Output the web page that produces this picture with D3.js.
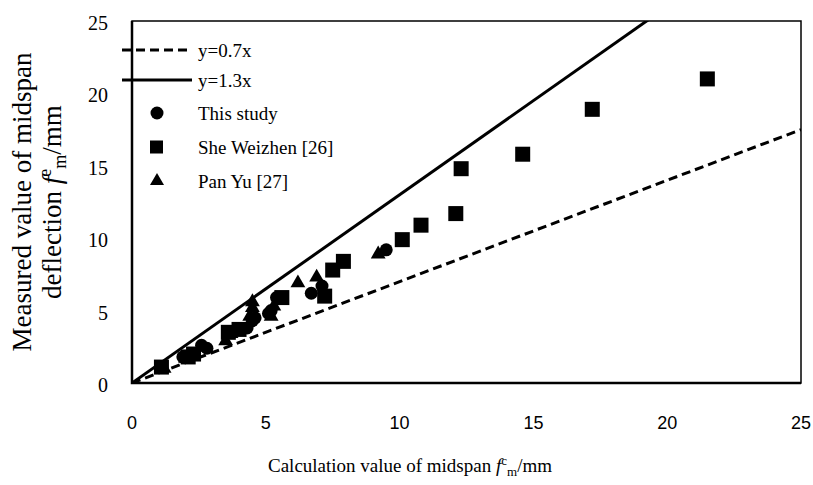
<!DOCTYPE html>
<html lang="en">
<head>
  <meta charset="UTF-8">
  <title>Midspan deflection comparison</title>
  <script src="https://d3js.org/d3.v7.min.js"></script>
  <style>
    body {
      margin: 0;
      background-color: #fff;
    }
    .ylab { font-family: 'Liberation Serif', 'Times New Roman', serif; font-size: 20px; }
    .xlab { font-family: 'Liberation Sans', Arial, sans-serif; font-size: 18px; }
    .legend text, .title { font-family: 'Liberation Serif', 'Times New Roman', serif; }
  </style>
</head>
<body>
  <svg width="813" height="485"></svg>

  <script>
    // ticks
    const xTicks = [0, 5, 10, 15, 20, 25];
    const yTicks = [0, 5, 10, 15, 20, 25];

    // reference lines y = k x
    const lineSlopes = [0.7, 1.3];
    const lineNames = ["y=0.7x", "y=1.3x"];

    // This study (circles)
    const studyX = [1.9, 2.2, 2.6, 2.8, 4.3, 4.5, 4.6, 5.1, 5.2, 5.4, 6.7, 7.1, 9.5];
    const studyY = [1.8, 1.9, 2.6, 2.4, 3.8, 4.3, 4.5, 4.8, 5.0, 5.9, 6.2, 6.7, 9.2];

    // She Weizhen [26] (squares)
    const sheX = [1.1, 2.1, 2.3, 3.6, 4.0, 5.6, 7.2, 7.5, 7.9, 10.1, 10.8, 12.1, 12.3, 14.6, 17.2, 21.5];
    const sheY = [1.1, 1.8, 2.0, 3.5, 3.7, 5.9, 6.0, 7.8, 8.4, 9.9, 10.9, 11.7, 14.8, 15.8, 18.9, 21.0];

    // Pan Yu [27] (triangles)
    const panX = [1.2, 2.0, 3.5, 3.7, 4.4, 4.5, 4.5, 5.2, 5.3, 6.2, 6.9, 9.2];
    const panY = [1.0, 1.7, 2.9, 3.4, 4.6, 5.2, 5.6, 4.6, 5.3, 6.9, 7.3, 8.9];

    const svg = d3.select("svg");
    const plotL = 132, plotR = 801, plotT = 21, plotB = 383;

    const x = d3.scaleLinear().domain([0, 25]).range([plotL, plotR]);
    const y = d3.scaleLinear().domain([0, 25]).range([plotB, plotT]);

    svg.append("clipPath").attr("id", "plot-clip")
      .append("rect")
      .attr("x", plotL).attr("y", plotT)
      .attr("width", plotR - plotL).attr("height", plotB - plotT);

    // reference lines
    const line = d3.line().x(d => x(d[0])).y(d => y(d[1]));
    svg.append("g").attr("clip-path", "url(#plot-clip)")
      .selectAll("path")
      .data(lineSlopes)
      .enter().append("path")
      .attr("d", k => line([[0, 0], [25, 25 * k]]))
      .attr("fill", "none")
      .attr("stroke", "#000")
      .attr("stroke-width", 3)
      .attr("stroke-dasharray", (k, i) => i === 0 ? "9,5" : null);

    // markers
    const zip = (xs, ys) => xs.map((v, i) => [v, ys[i]]);
    const g = svg.append("g");

    g.selectAll(".sq")
      .data(zip(sheX, sheY))
      .enter().append("rect")
      .attr("x", d => x(d[0]) - 7.5)
      .attr("y", d => y(d[1]) - 7.5)
      .attr("width", 15).attr("height", 15)
      .attr("fill", "#000");

    g.selectAll(".tri")
      .data(zip(panX, panY))
      .enter().append("path")
      .attr("transform", d => `translate(${x(d[0])},${y(d[1])})`)
      .attr("d", d3.symbol(d3.symbolTriangle, 95))
      .attr("fill", "#000");

    g.selectAll(".dot")
      .data(zip(studyX, studyY))
      .enter().append("circle")
      .attr("cx", d => x(d[0]))
      .attr("cy", d => y(d[1]))
      .attr("r", 6.5)
      .attr("fill", "#000");

    // plot border
    svg.append("rect")
      .attr("x", plotL).attr("y", plotT)
      .attr("width", plotR - plotL).attr("height", plotB - plotT)
      .attr("fill", "none").attr("stroke", "#000").attr("stroke-width", 1.5);
    svg.append("path")
      .attr("d", `M${plotL},${plotT}V${plotB}H${plotR}`)
      .attr("fill", "none").attr("stroke", "#000").attr("stroke-width", 2.5);

    // tick labels
    svg.selectAll(".ylab")
      .data(yTicks)
      .enter().append("text")
      .attr("class", "ylab")
      .attr("x", 108)
      .attr("y", d => y(d) + 2)
      .attr("text-anchor", "end")
      .attr("dominant-baseline", "central")
      .text(d => d);

    svg.selectAll(".xlab")
      .data(xTicks)
      .enter().append("text")
      .attr("class", "xlab")
      .attr("x", d => x(d))
      .attr("y", 423)
      .attr("text-anchor", "middle")
      .attr("dominant-baseline", "central")
      .text(d => d);

    // axis titles
    const xt = svg.append("text").attr("class", "title")
      .attr("x", 268).attr("y", 472)
      .style("font-size", "19px");
    xt.append("tspan").text("Calculation value of midspan ");
    xt.append("tspan").attr("font-style", "italic").text("f");
    xt.append("tspan").attr("dy", -7).style("font-size", "13px").text("c");
    xt.append("tspan").attr("dy", 11).style("font-size", "13px").text("m");
    xt.append("tspan").attr("dy", -4).text("/mm");

    const yt = svg.append("g").attr("transform", "translate(0,202) rotate(-90)");
    yt.append("text").attr("class", "title")
      .attr("x", 0).attr("y", 31)
      .attr("text-anchor", "middle")
      .style("font-size", "27px")
      .text("Measured value of midspan");
    const yt2 = yt.append("text").attr("class", "title")
      .attr("x", 0).attr("y", 61)
      .attr("text-anchor", "middle")
      .style("font-size", "27px");
    yt2.append("tspan").text("deflection ");
    yt2.append("tspan").attr("font-style", "italic").text("f");
    yt2.append("tspan").attr("dy", -10).style("font-size", "18px").text("e");
    yt2.append("tspan").attr("dy", 15).style("font-size", "18px").text("m");
    yt2.append("tspan").attr("dy", -5).text("/mm");

    // legend
    const legend = svg.append("g").attr("class", "legend");
    const rowY = [50, 80, 113, 147, 181];
    const labels = lineNames.concat(["This study", "She Weizhen [26]", "Pan Yu [27]"]);

    legend.selectAll("line")
      .data(lineSlopes)
      .enter().append("line")
      .attr("x1", 122).attr("x2", 192)
      .attr("y1", (d, i) => rowY[i]).attr("y2", (d, i) => rowY[i])
      .attr("stroke", "#000").attr("stroke-width", 3)
      .attr("stroke-dasharray", (d, i) => i === 0 ? "9,5" : null);

    legend.append("circle").attr("cx", 157).attr("cy", rowY[2]).attr("r", 6.5);
    legend.append("rect").attr("x", 150).attr("y", rowY[3] - 6.5).attr("width", 13).attr("height", 13);
    legend.append("path").attr("transform", `translate(157,${rowY[4]})`)
      .attr("d", d3.symbol(d3.symbolTriangle, 85));

    legend.selectAll("text")
      .data(labels)
      .enter().append("text")
      .attr("x", 198)
      .attr("y", (d, i) => rowY[i])
      .attr("dominant-baseline", "central")
      .style("font-size", "19px")
      .text(d => d);
  </script>
</body>
</html>
